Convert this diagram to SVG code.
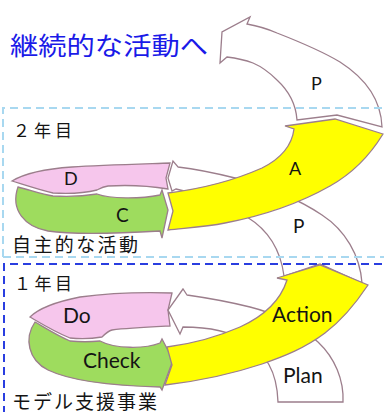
<svg xmlns="http://www.w3.org/2000/svg" width="384" height="412" viewBox="0 0 384 412">
<style>
.sh{stroke:#9c7e8c;stroke-width:1.3;stroke-linejoin:miter}
.wp{fill:#ffffff}
.pk{fill:#f6c6ec}
.gr{fill:#9edc5e}
.ye{fill:#ffff00}
.lbl{font-family:Lato,"Liberation Sans",sans-serif;fill:#141414}
.jp{font-family:"Noto Sans CJK JP","Noto Sans",sans-serif;fill:#141414}
.box1{fill:none;stroke:#a8d8f0;stroke-width:2;stroke-dasharray:8 5}
.box2{fill:none;stroke:#2a3ee0;stroke-width:2;stroke-dasharray:8 5}
</style>
<rect width="384" height="412" fill="#ffffff"/>

<g id="title">
<text class="jp" x="10" y="55" font-size="25" textLength="198" lengthAdjust="spacingAndGlyphs" style="fill:#1a1ae8">継続的な活動へ</text>
</g>

<!-- year 2 cycle -->
<g id="y2-do">
<path class="sh pk" d="M12,181 C22,175 42,169 72,167 C100,165 140,164 170,163 L166,178 L168,189 C150,186 125,185 108,186 C102,187 99,189 97,190 C85,193 70,194 53,193 C40,190 28,186 12,181 Z"/>
<text class="lbl" x="64" y="185" font-size="18">D</text>
</g>
<g id="y2-check">
<path class="sh gr" d="M18,187 C30,190 42,194 53,196 C70,197 85,196 97,194 C110,199 140,199 160,195 L162,190 L168,210 L162,238 L160,231 C125,233 75,235 48,231 C25,227 10,210 18,187 Z"/>
<text class="lbl" x="116" y="222" font-size="19">C</text>
</g>
<g id="y2-plan">
<path class="sh wp" d="M173,161 L168,178 L172,191 L176,189 C195,193 225,203 247,217 C265,228 280,245 284,276 L320,264 L362,283 C360,255 345,230 322,215 C295,197 262,185 235,178 C215,173 195,169 178,167 Z"/>
<text class="lbl" x="293" y="233" font-size="19">P</text>
</g>
<g id="y3-plan">
<path class="sh wp" d="M297,120 C296,105 290,92 277,80 C268,71 260,66 253,63 C245,60 235,58 227,57 L220,63 L222,32 L250,17 L247,24 C258,26 268,29 277,33 C300,42 320,50 340,62 C365,78 381,98 382,127 L337,115 Z"/>
<text class="lbl" x="311" y="90" font-size="18">P</text>
</g>
<g id="y2-action">
<path class="sh ye" d="M168,193 C200,189 235,180 262,168 C282,158 292,145 294,129 L285,126 L335,119 L383,134 C372,152 355,172 330,186 C300,203 262,216 225,223 C205,227 185,228 168,230 L173,211 Z"/>
<text class="lbl" x="289" y="175" font-size="18">A</text>
</g>

<!-- year 1 cycle -->
<g id="y1-do">
<path class="sh pk" d="M30,317 C38,309 55,302 80,297 C110,293 140,292 172,293 L168,310 L170,326 C150,327 128,328 112,330 C108,331 105,334 102,337 C90,339 80,339 70,338 C55,332 42,324 30,317 Z"/>
<text class="lbl" x="63" y="323" font-size="21">Do</text>
</g>
<g id="y1-check">
<path class="sh gr" d="M35,322 C47,329 58,336 70,341 C80,342 90,342 100,341 C115,349 145,349 160,343 L162,339 L173,360 L162,390 L160,387 C120,386 75,383 48,370 C28,360 24,338 35,322 Z"/>
<text class="lbl" x="83" y="368" font-size="21">Check</text>
</g>
<g id="y1-plan">
<path class="sh wp" d="M183,289 L168,310 L180,334 L183,327 C205,327 230,331 247,342 C265,354 277,370 278,402 L343,402 C344,380 335,358 318,342 C300,326 278,314 250,307 C230,302 208,298 187,295 Z"/>
<text class="lbl" x="283" y="383" font-size="21">Plan</text>
</g>
<g id="y1-action">
<path class="sh ye" d="M167,347 C190,344 217,337 240,327 C262,317 280,302 287,280 L277,278 L320,265 L368,285 C358,300 345,318 325,333 C305,348 285,356 262,364 C235,373 200,381 165,385 L172,365 Z"/>
<text class="lbl" x="272" y="322" font-size="21">Action</text>
</g>

<g id="connectors"></g>

<!-- stage frames -->
<g id="stage2">
<path class="box1" d="M3,257 L3,108 L386,108"/>
<path class="box1" d="M3,257 L386,257"/>
<text class="jp" x="13" y="136.5" font-size="17" textLength="59" lengthAdjust="spacing">２年目</text>
<text class="jp" x="12" y="251.5" font-size="19" textLength="126" lengthAdjust="spacing">自主的な活動</text>
</g>
<g id="stage1">
<path class="box2" d="M4,414 L4,264 L386,264"/>
<text class="jp" x="14" y="290" font-size="17" textLength="58" lengthAdjust="spacing">１年目</text>
<text class="jp" x="12" y="408.5" font-size="19" textLength="145" lengthAdjust="spacing">モデル支援事業</text>
</g>
</svg>
